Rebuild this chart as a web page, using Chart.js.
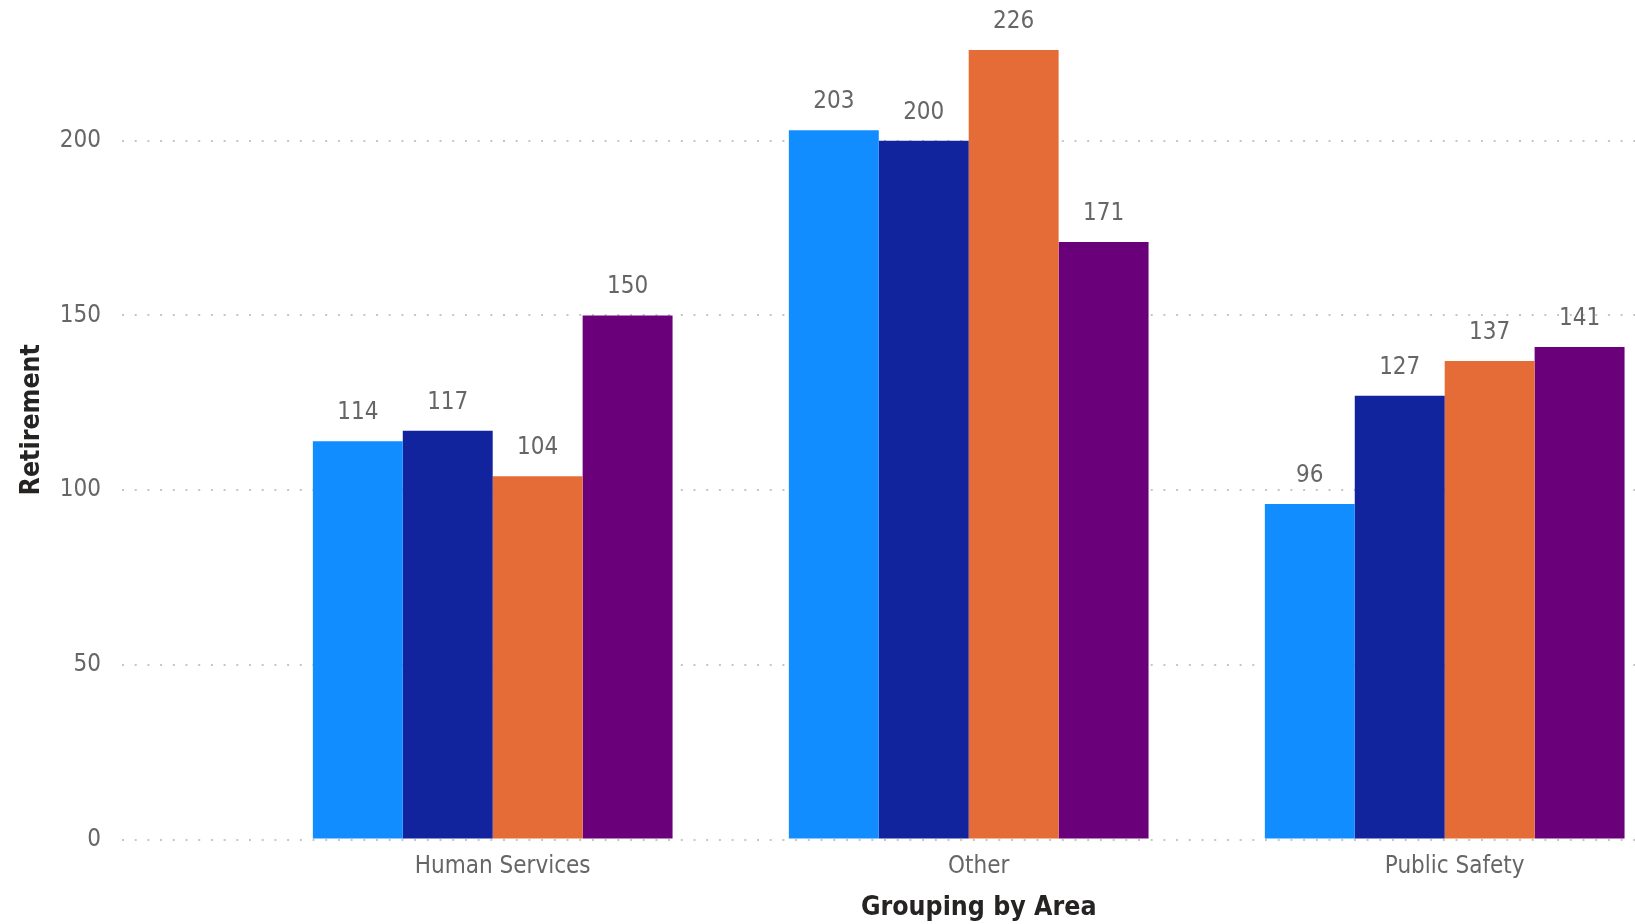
<!DOCTYPE html>
<html>
<head>
<meta charset="utf-8">
<script src="https://cdn.jsdelivr.net/npm/chart.js@4.4.1/dist/chart.umd.min.js"></script>
<style>
  html, body { margin: 0; padding: 0; background: #ffffff; }
  #wrap { width: 1635px; height: 924px; position: relative; }
</style>
</head>
<body>
<div id="wrap"><canvas id="c"></canvas></div>
<script>
// ---- data ----
const categories = ['Human Services', 'Other', 'Public Safety'];
const seriesNames = ['Series 1', 'Series 2', 'Series 3', 'Series 4'];
const series1 = [114, 203, 96];
const series2 = [117, 200, 127];
const series3 = [104, 226, 137];
const series4 = [150, 171, 141];
const yTicks = [0, 50, 100, 150, 200];
const seriesColors = ['#118DFF', '#12239E', '#E66C37', '#6B007B'];
const xTitle = 'Grouping by Area';
const yTitle = 'Retirement';

// ---- font selection ----
function fontAvailable(name) {
  const c = document.createElement('canvas').getContext('2d');
  const s = 'Human Services 0123456789';
  c.font = '40px monospace';
  const w0 = c.measureText(s).width;
  c.font = '40px "' + name + '", monospace';
  return Math.abs(c.measureText(s).width - w0) > 0.5;
}
let FAM, tickSize, titleSize;
if (fontAvailable('Liberation Sans Narrow')) {
  FAM = '"Liberation Sans Narrow"'; tickSize = 29; titleSize = 32;
} else if (fontAvailable('DejaVu Sans Condensed')) {
  FAM = '"DejaVu Sans Condensed"'; tickSize = 24; titleSize = 26.5;
} else {
  FAM = '"Liberation Sans", Arial'; tickSize = 24; titleSize = 27;
}
const LABEL_SHIFT = 10;

const allSeries = [series1, series2, series3, series4];
const datasets = allSeries.map((vals, si) => ({
  label: seriesNames[si],
  data: vals.map((v, i) => ({ x: i, y: v })),
  backgroundColor: seriesColors[si],
  borderWidth: 0,
  categoryPercentage: 0.7557,
  barPercentage: 1.0
}));

const valueLabels = {
  id: 'valueLabels',
  afterDatasetsDraw(chart) {
    const ctx = chart.ctx;
    ctx.save();
    ctx.font = tickSize + 'px ' + FAM;
    ctx.fillStyle = '#666666';
    ctx.textAlign = 'center';
    ctx.textBaseline = 'alphabetic';
    chart.data.datasets.forEach((ds, di) => {
      const meta = chart.getDatasetMeta(di);
      meta.data.forEach((bar, i) => {
        ctx.fillText(String(ds.data[i].y), bar.x, bar.y - 22);
      });
    });
    ctx.restore();
  }
};

// x-axis title, centred under the middle category label
const xAxisTitle = {
  id: 'xAxisTitle',
  afterDraw(chart) {
    const xs = chart.scales.x;
    const ctx = chart.ctx;
    const mid = (categories.length - 1) / 2;
    ctx.save();
    ctx.font = 'bold ' + titleSize + 'px ' + FAM;
    ctx.fillStyle = '#252423';
    ctx.textAlign = 'center';
    ctx.textBaseline = 'middle';
    ctx.fillText(xTitle, xs.getPixelForValue(mid) + LABEL_SHIFT, xs.bottom - titleSize * 0.6);
    ctx.restore();
  }
};

new Chart(document.getElementById('c'), {
  type: 'bar',
  data: { datasets },
  plugins: [valueLabels, xAxisTitle],
  options: {
    responsive: true,
    maintainAspectRatio: false,
    animation: false,
    events: [],
    layout: { padding: { left: 0, right: 0, top: 0, bottom: 0 } },
    plugins: { legend: { display: false }, tooltip: { enabled: false } },
    scales: {
      x: {
        type: 'linear',
        offset: false,
        min: -0.7788,
        max: 2.3998,
        afterBuildTicks(scale) { scale.ticks = categories.map((_, i) => ({ value: i })); },
        afterFit(scale) {
          scale.height = 84.5;
          scale.paddingLeft = 0; scale.paddingRight = 0;
        },
        grid: { display: false, drawTicks: false, offset: false },
        border: { display: false },
        ticks: {
          callback: (v) => categories[v] ?? '',
          color: '#666666',
          font: { family: FAM, size: tickSize },
          padding: 13,
          labelOffset: LABEL_SHIFT,
          maxRotation: 0,
          autoSkip: false
        },
        title: { display: false }
      },
      y: {
        min: 0,
        max: 240.3,
        afterBuildTicks(scale) { scale.ticks = yTicks.map(v => ({ value: v })); },
        afterFit(scale) {
          scale.width = 122;
          scale.paddingTop = 0; scale.paddingBottom = 0;
        },
        grid: { color: 'rgba(150,150,150,0.55)', lineWidth: 2, drawTicks: false },
        border: { display: false, dash: [2, 10.7] },
        ticks: {
          color: '#666666',
          font: { family: FAM, size: tickSize },
          padding: 21
        },
        title: {
          display: true,
          text: yTitle,
          color: '#252423',
          font: { family: FAM, size: titleSize, weight: 'bold' },
          padding: { top: 16, bottom: 0 }
        }
      }
    }
  }
});
</script>
</body>
</html>
